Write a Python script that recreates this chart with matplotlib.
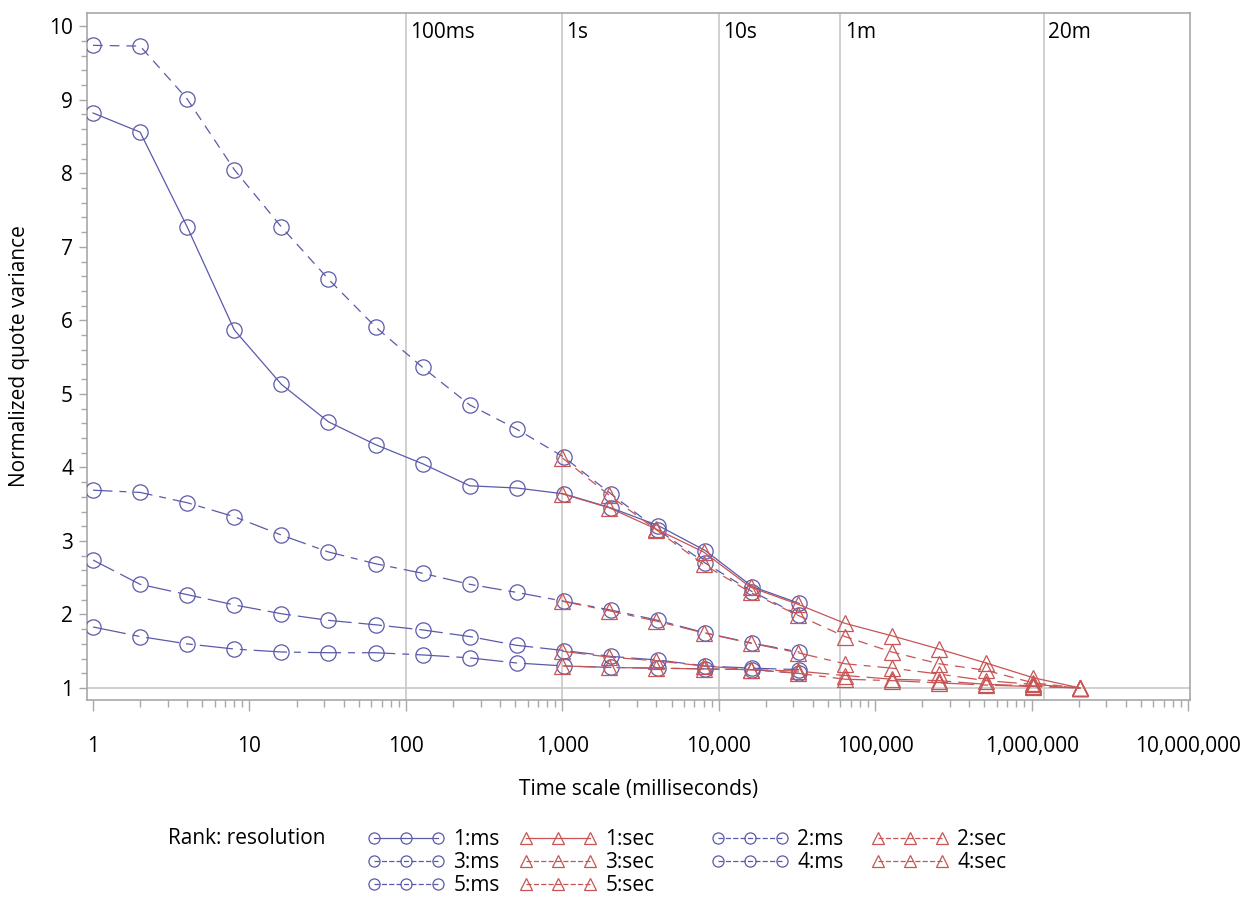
import matplotlib
matplotlib.use("Agg")
import matplotlib.pyplot as plt
from matplotlib.lines import Line2D
from matplotlib.ticker import FuncFormatter, LogLocator, MultipleLocator, FixedLocator, NullFormatter

plt.rcParams['font.family'] = ['Open Sans', 'DejaVu Sans']
plt.rcParams['lines.scale_dashes'] = False

# ---------------- data ----------------
ms_x = [2 ** k for k in range(16)]            # 1 .. 32768 ms
sec_x = [1000 * 2 ** k for k in range(12)]    # 1000 .. 2,048,000 ms

r1_ms = [8.82, 8.56, 7.27, 5.87, 5.13, 4.62, 4.31, 4.05, 3.75, 3.72, 3.64, 3.45, 3.21, 2.87, 2.38, 2.15]
r2_ms = [9.74, 9.73, 9.01, 8.05, 7.27, 6.56, 5.91, 5.36, 4.85, 4.52, 4.14, 3.64, 3.15, 2.70, 2.31, 1.99]
r3_ms = [3.69, 3.66, 3.52, 3.33, 3.08, 2.85, 2.69, 2.56, 2.41, 2.30, 2.18, 2.06, 1.92, 1.75, 1.61, 1.49]
r4_ms = [2.74, 2.41, 2.27, 2.13, 2.01, 1.92, 1.86, 1.79, 1.70, 1.58, 1.51, 1.43, 1.38, 1.30, 1.27, 1.25]
r5_ms = [1.83, 1.70, 1.60, 1.53, 1.49, 1.48, 1.48, 1.45, 1.41, 1.34, 1.30, 1.28, 1.27, 1.26, 1.25, 1.20]

r1_sec = [3.64, 3.45, 3.16, 2.85, 2.37, 2.14, 1.88, 1.71, 1.53, 1.34, 1.14, 1.00]
r2_sec = [4.13, 3.62, 3.15, 2.68, 2.30, 1.99, 1.70, 1.49, 1.33, 1.24, 1.07, 1.00]
r3_sec = [2.18, 2.05, 1.91, 1.75, 1.61, 1.48, 1.33, 1.27, 1.19, 1.10, 1.05, 1.00]
r4_sec = [1.50, 1.42, 1.37, 1.30, 1.25, 1.23, 1.17, 1.12, 1.10, 1.05, 1.03, 1.00]
r5_sec = [1.30, 1.28, 1.27, 1.26, 1.25, 1.20, 1.12, 1.10, 1.07, 1.04, 1.02, 1.00]

ranks = ["1", "2", "3", "4", "5"]
ms_series = [r1_ms, r2_ms, r3_ms, r4_ms, r5_ms]
sec_series = [r1_sec, r2_sec, r3_sec, r4_sec, r5_sec]

x_ticks = [1, 10, 100, 1000, 10000, 100000, 1000000, 10000000]
y_ticks = [1, 2, 3, 4, 5, 6, 7, 8, 9, 10]

ref_x = [100, 1000, 10000, 60000, 1200000]
ref_labels = ["100ms", "1s", "10s", "1m", "20m"]
ref_y = 1

x_label = "Time scale (milliseconds)"
y_label = "Normalized quote variance"
legend_title = "Rank: resolution"
legend_columns = [["1:ms", "3:ms", "5:ms"], ["1:sec", "3:sec", "5:sec"],
                  ["2:ms", "4:ms"], ["2:sec", "4:sec"]]

# ---------------- style ----------------
BLUE = "#5a5aaa"
RED = "#c85454"
GRID = "#c8c8c8"
FRAME = "#a8a8a8"
dash_styles = [
    "-",
    (0, (7, 5)),
    (0, (14, 5, 5, 5)),
    (0, (17, 5)),
    (0, (24, 5, 5, 5)),
]
FS = 15

fig = plt.figure(figsize=(12.42, 8.97), dpi=100)
ax = fig.add_axes([87 / 1242, 1 - 700 / 897, (1190 - 87) / 1242, (700 - 13) / 897])

for xv in ref_x:
    ax.axvline(xv, color=GRID, lw=1.2, zorder=1)
ax.axhline(ref_y, color=GRID, lw=1.2, zorder=1)

handles = {}
for i, r in enumerate(ranks):
    h, = ax.plot(ms_x, ms_series[i], color=BLUE, lw=0.9, ls=dash_styles[i],
                 marker="o", ms=11, mfc="none", mec=BLUE, mew=0.9, zorder=3)
    handles[r + ":ms"] = h
for i, r in enumerate(ranks):
    h, = ax.plot(sec_x, sec_series[i], color=RED, lw=0.9, ls=dash_styles[i],
                 marker="^", ms=11, mfc="none", mec=RED, mew=0.9, zorder=4)
    handles[r + ":sec"] = h

ax.set_xscale("log")
ax.set_xlim(0.915, 1.03e7)
ax.set_ylim(0.837, 10.18)

ax.xaxis.set_major_locator(FixedLocator(x_ticks))
ax.xaxis.set_minor_locator(LogLocator(base=10, subs=range(2, 10), numticks=200))
ax.xaxis.set_major_formatter(FuncFormatter(lambda v, p: f"{int(round(v)):,}"))
ax.xaxis.set_minor_formatter(NullFormatter())
ax.yaxis.set_major_locator(FixedLocator(y_ticks))
ax.yaxis.set_minor_locator(MultipleLocator(0.2))

ax.tick_params(axis="both", which="both", direction="out", colors=FRAME, labelcolor="black",
               labelsize=FS)
ax.tick_params(axis="x", which="major", length=8, width=1, pad=18)
ax.tick_params(axis="x", which="minor", length=5, width=1)
ax.tick_params(axis="y", which="major", length=6, width=1, pad=4)
ax.tick_params(axis="y", which="minor", length=4, width=1)

for s in ax.spines.values():
    s.set_color(FRAME)
    s.set_linewidth(1.2)

ax.set_xlabel(x_label, fontsize=FS, labelpad=16)
ax.set_ylabel(y_label, fontsize=FS, labelpad=14)

for xv, lab in zip(ref_x, ref_labels):
    ax.annotate(lab, xy=(xv, 0.972), xycoords=("data", "axes fraction"),
                xytext=(3, 0), textcoords="offset points", ha="left", va="center",
                fontsize=FS)

col_left_px = [368, 520, 712, 872]
for keys, xpx in zip(legend_columns, col_left_px):
    hs = []
    for key in keys:
        src = handles[key]
        hs.append(Line2D([], [], color=src.get_color(), lw=0.9, ls=src.get_linestyle(),
                         marker=src.get_marker(), ms=8, mfc="none",
                         mec=src.get_color(), mew=0.9))
    fig.legend(hs, keys, loc="upper left", bbox_to_anchor=(xpx / 1242, 1 - 829 / 897),
               ncol=1, numpoints=3, frameon=False, fontsize=FS, handlelength=3.65,
               handletextpad=0.45, labelspacing=0.1, borderpad=0, borderaxespad=0)
fig.text(168 / 1242, 1 - 838 / 897, legend_title, fontsize=FS, ha="left", va="center")

fig.savefig("out.png", dpi=100)
